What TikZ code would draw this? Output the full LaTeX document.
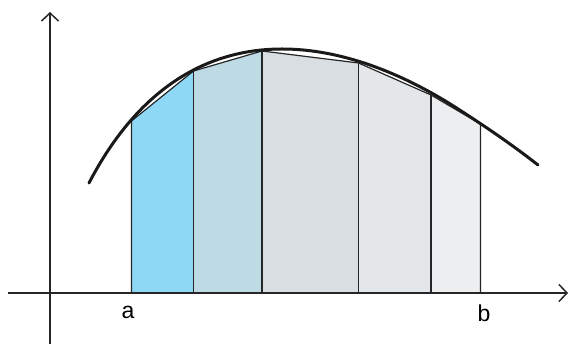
\documentclass[tikz,border=0pt]{standalone}
\usepackage{fontspec}
\setmainfont{Liberation Sans}
\usetikzlibrary{arrows.meta}
\definecolor{stripA}{HTML}{8ED8F5}
\definecolor{stripB}{HTML}{BDDAE5}
\definecolor{stripC}{HTML}{D8DEE2}
\definecolor{stripD}{HTML}{E3E7EA}
\definecolor{stripE}{HTML}{EDEEF0}
\begin{document}
\begin{tikzpicture}[x=1pt, y=-1pt]
  \tikzset{axis/.style={line width=1.1pt, black!85, -{Straight Barb[length=8pt, width=17pt, line width=1.5pt]}},
           strip/.style={draw=black!85, line width=1.2pt},
           curve/.style={line width=3pt, black!90, line cap=round},
           lbl/.style={font=\fontsize{23}{26}\selectfont, anchor=base}}
  \useasboundingbox (0,0) rectangle (570,344);
  \coordinate (xs) at (8,293);
  \coordinate (xe) at (568,293);
  \coordinate (ys) at (50,344);
  \coordinate (ye) at (50,12);
  \coordinate (p0) at (131.5,293);
  \coordinate (p1) at (193.5,293);
  \coordinate (p2) at (262,293);
  \coordinate (p3) at (358.5,293);
  \coordinate (p4) at (431,293);
  \coordinate (p5) at (480.5,293);
  \coordinate (t0) at (131.5,121);
  \coordinate (t1) at (193.5,71);
  \coordinate (t2) at (262,51);
  \coordinate (t3) at (358.5,63);
  \coordinate (t4) at (431,95);
  \coordinate (t5) at (480.5,124);
  \fill[stripA] (p0) -- (t0) -- (t1) -- (p1) -- cycle;
  \fill[stripB] (p1) -- (t1) -- (t2) -- (p2) -- cycle;
  \fill[stripC] (p2) -- (t2) -- (t3) -- (p3) -- cycle;
  \fill[stripD] (p3) -- (t3) -- (t4) -- (p4) -- cycle;
  \fill[stripE] (p4) -- (t4) -- (t5) -- (p5) -- cycle;
  \draw[strip] (p0) -- (t0) -- (t1) -- (t2) -- (t3) -- (t4) -- (t5) -- (p5);
  \draw[strip] (p1) -- (t1);
  \draw[strip] (p2) -- (t2);
  \draw[strip] (p3) -- (t3);
  \draw[strip] (p4) -- (t4);
  \draw[curve] (89,183) .. controls (140,85) and (210,49) .. (282,49)
    .. controls (340,49) and (400,72) .. (455,107)
    .. controls (480,123) and (510,143) .. (538,165);
  \draw[axis] (xs) -- (xe);
  \draw[axis] (ys) -- (ye);
  \node[lbl] (a) at (128,319) {a};
  \node[lbl] (b) at (484,322) {b};
\end{tikzpicture}
\end{document}
